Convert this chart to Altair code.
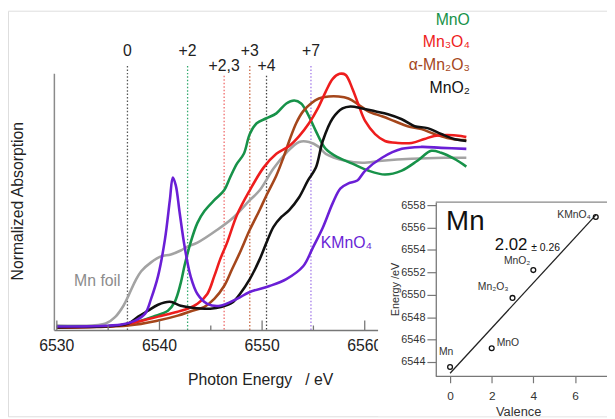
import altair as alt
import pandas as pd

# ---------------- data ----------------
series_names = ["Mn foil", "MnO", "α-Mn₂O₃", "Mn₃O₄", "MnO₂", "KMnO₄"]

foil_e = [6530.00, 6534.76, 6535.72, 6536.49, 6536.97, 6537.64, 6538.22, 6539.18, 6540.14, 6541.11,
          6542.07, 6542.74, 6543.70, 6545.63, 6547.26, 6548.80, 6549.76, 6551.11, 6552.36, 6553.61,
          6554.57, 6555.53, 6556.20, 6558.13, 6559.76, 6561.68, 6564.57, 6567.74, 6569.90]
foil_v = [0.05, 0.07, 0.14, 0.25, 0.35, 0.50, 0.60, 0.69, 0.75, 0.77,
          0.81, 0.85, 0.89, 1.02, 1.15, 1.32, 1.42, 1.64, 1.80, 1.91,
          1.91, 1.86, 1.79, 1.72, 1.70, 1.72, 1.74, 1.75, 1.75]

mno_e = [6530.00, 6536.01, 6537.93, 6539.38, 6540.82, 6541.49, 6542.07, 6542.45, 6543.03, 6543.70,
         6544.38, 6545.34, 6546.30, 6546.88, 6547.55, 6548.22, 6548.80, 6549.47, 6550.43, 6551.39,
         6552.36, 6553.13, 6553.80, 6554.47, 6555.24, 6556.20, 6557.45, 6558.80, 6560.34, 6561.97,
         6563.61, 6565.14, 6566.49, 6567.45, 6568.70, 6569.90]
mno_v = [0.04, 0.05, 0.09, 0.14, 0.20, 0.29, 0.48, 0.66, 0.89, 1.09,
         1.21, 1.32, 1.42, 1.55, 1.69, 1.79, 1.99, 2.10, 2.15, 2.20,
         2.30, 2.33, 2.30, 2.19, 2.02, 1.84, 1.75, 1.69, 1.62, 1.58,
         1.62, 1.72, 1.82, 1.80, 1.74, 1.66]

mn2o3_e = [6530.00, 6536.97, 6539.86, 6541.78, 6543.20, 6544.38, 6545.34, 6546.30, 6547.07, 6547.84,
           6548.80, 6549.76, 6550.43, 6551.39, 6552.07, 6552.64, 6553.32, 6553.99, 6554.76, 6555.53,
           6556.49, 6557.45, 6558.41, 6559.38, 6560.34, 6561.68, 6562.93, 6564.18, 6565.53, 6566.78,
           6568.03, 6569.38, 6569.90]
mn2o3_v = [0.03, 0.05, 0.10, 0.15, 0.20, 0.24, 0.32, 0.45, 0.62, 0.79,
           1.02, 1.22, 1.37, 1.57, 1.75, 1.92, 2.10, 2.22, 2.30, 2.35,
           2.37, 2.37, 2.35, 2.29, 2.22, 2.17, 2.12, 2.07, 2.04, 1.99,
           1.95, 1.93, 1.93]

mn3o4_e = [6530.00, 6536.00, 6537.93, 6539.86, 6541.78, 6542.74, 6543.70, 6544.66, 6545.34, 6545.91,
           6546.59, 6547.55, 6548.80, 6550.14, 6551.39, 6552.64, 6553.61, 6554.57, 6555.43, 6556.20,
           6556.88, 6557.55, 6558.13, 6558.80, 6559.38, 6560.05, 6561.01, 6561.97, 6563.22, 6564.57,
           6565.82, 6566.78, 6568.03, 6569.38, 6569.90]
mn3o4_v = [0.03, 0.05, 0.09, 0.14, 0.19, 0.22, 0.27, 0.37, 0.55, 0.72,
           0.89, 1.17, 1.42, 1.65, 1.79, 1.87, 1.97, 2.10, 2.25, 2.42,
           2.55, 2.60, 2.59, 2.45, 2.29, 2.12, 1.99, 1.92, 1.90, 1.90,
           1.94, 1.97, 1.98, 1.97, 1.96]

mno2_e = [6530.00, 6536.00, 6536.97, 6537.93, 6538.89, 6539.86, 6541.01, 6542.07, 6543.20, 6544.95,
          6546.10, 6547.07, 6547.84, 6548.80, 6549.76, 6550.43, 6551.11, 6551.88, 6552.64, 6553.61,
          6554.47, 6555.24, 6555.91, 6556.88, 6557.84, 6558.61, 6559.76, 6561.01, 6562.26, 6563.61,
          6564.86, 6566.11, 6567.45, 6568.70, 6569.90]
mno2_v = [0.03, 0.05, 0.07, 0.14, 0.20, 0.26, 0.29, 0.25, 0.23, 0.22,
          0.24, 0.28, 0.37, 0.52, 0.72, 0.89, 1.05, 1.15, 1.22, 1.35,
          1.52, 1.65, 1.92, 2.15, 2.25, 2.27, 2.25, 2.22, 2.19, 2.14,
          2.07, 2.05, 1.99, 1.94, 1.92]

kmno4_e = [6530.00, 6536.30, 6537.64, 6538.60, 6539.18, 6539.86, 6540.53, 6541.01, 6541.30, 6541.59,
           6541.97, 6542.45, 6543.03, 6543.70, 6544.66, 6545.91, 6547.55, 6548.80, 6550.72, 6552.36,
           6554.00, 6554.95, 6555.91, 6556.88, 6557.64, 6558.41, 6559.28, 6560.05, 6561.68, 6563.61,
           6565.53, 6567.45, 6569.90]
kmno4_v = [0.04, 0.06, 0.10, 0.17, 0.32, 0.55, 0.92, 1.32, 1.55, 1.47,
           1.19, 0.85, 0.55, 0.37, 0.27, 0.25, 0.32, 0.39, 0.45, 0.52,
           0.65, 0.84, 1.04, 1.29, 1.44, 1.49, 1.52, 1.62, 1.75, 1.84,
           1.86, 1.85, 1.84]

legend_names = ["MnO", "Mn₃O₄", "α-Mn₂O₃", "MnO₂"]

edge_labels = ["0", "+2", "+2,3", "+3", "+4", "+7"]
edge_energy = [6536.88, 6542.74, 6546.30, 6548.80, 6550.43, 6554.76]
edge_tier = [0, 0, 1, 0, 1, 0]

xtick_major = [6530, 6540, 6550, 6560]
xtick_minor = [6535, 6545, 6555]

inset_names = ["Mn", "MnO", "Mn₂O₃", "MnO₂", "KMnO₄"]
inset_valence = [0, 2, 3, 4, 7]
inset_energy = [6543.56, 6545.23, 6549.72, 6552.20, 6556.94]
fit_valence = [0, 7]
fit_energy = [6543.0, 6557.1]
inset_xticks = [0, 2, 4, 6]
inset_yticks = [6544, 6546, 6548, 6550, 6552, 6554, 6556, 6558]
slope_text = "2.02"
slope_err = "± 0.26"

# ---------------- styles / layout ----------------
W, H = 607, 411
FONT = "Liberation Sans"
TXT = "#222222"
COLORS = {
    "Mn foil": "#a3a3a3",
    "MnO": "#179249",
    "α-Mn₂O₃": "#a5461b",
    "Mn₃O₄": "#ee1d1d",
    "MnO₂": "#111111",
    "KMnO₄": "#6a1fd6",
}
EDGE_COLORS = ["#555555", "#33aa6e", "#f06a6a", "#c8643e", "#444444", "#a27ae8"]

XM = alt.Scale(domain=[6529.76, 6570], range=[47, 465.5], nice=False, zero=False)
YM = alt.Scale(domain=[0, 2.6], range=[324, 64], nice=False, zero=False)
XI = alt.Scale(domain=[-0.71, 7.54], range=[433, 607], nice=False, zero=False)
YI = alt.Scale(domain=[6542.77, 6558.26], range=[370, 194], nice=False, zero=False)

# ---------------- tables ----------------
curve_src = {
    "Mn foil": (foil_e, foil_v),
    "MnO": (mno_e, mno_v),
    "α-Mn₂O₃": (mn2o3_e, mn2o3_v),
    "Mn₃O₄": (mn3o4_e, mn3o4_v),
    "MnO₂": (mno2_e, mno2_v),
    "KMnO₄": (kmno4_e, kmno4_v),
}
rows = []
for k, name in enumerate(series_names):
    es, vs = curve_src[name]
    for i, (e, v) in enumerate(zip(es, vs)):
        rows.append({"series": name, "k": k, "E": e, "A": v, "i": i, "color": COLORS[name]})
curves_df = pd.DataFrame(rows)

edges_df = pd.DataFrame({"label": edge_labels, "E": edge_energy, "tier": edge_tier})
edges_df["color"] = EDGE_COLORS
edges_df["top"] = [56 if t == 0 else 66 for t in edge_tier]
edges_df["ly"] = [41 if t == 0 else 56 for t in edge_tier]

legend_df = pd.DataFrame({"name": legend_names})
legend_df["color"] = [COLORS["MnO"], COLORS["Mn₃O₄"], COLORS["α-Mn₂O₃"], COLORS["MnO₂"]]
legend_df["ly"] = [9, 32, 55, 78]

ticks_df = pd.DataFrame({"t": xtick_major + xtick_minor,
                         "top": [314] * len(xtick_major) + [319] * len(xtick_minor)})
labels_df = pd.DataFrame({"t": xtick_major, "lab": [str(t) for t in xtick_major]})

inset_df = pd.DataFrame({"name": inset_names, "v": inset_valence, "E": inset_energy})
fit_df = pd.DataFrame({"v": fit_valence, "E": fit_energy})
one = pd.DataFrame({"d": [0]})

noax = dict(axis=None)

# ---------------- main panel ----------------
lines = alt.Chart(curves_df).mark_line(strokeWidth=2.6, interpolate="catmull-rom").encode(
    x=alt.X("E:Q", scale=XM, **noax),
    y=alt.Y("A:Q", scale=YM, **noax),
    color=alt.Color("color:N", scale=None),
    detail="k:N",
    order="i:Q",
)

edge_rules = alt.Chart(edges_df).mark_rule(strokeWidth=1.3, strokeDash=[1.5, 2]).encode(
    x=alt.X("E:Q", scale=XM, **noax),
    y=alt.Y("top:Q", scale=None),
    y2=alt.value(324),
    color=alt.Color("color:N", scale=None),
)
edge_text = alt.Chart(edges_df).mark_text(font=FONT, fontSize=16, baseline="middle", color=TXT).encode(
    x=alt.X("E:Q", scale=XM, **noax),
    y=alt.Y("ly:Q", scale=None),
    text="label:N",
)

legend_text = alt.Chart(legend_df).mark_text(font=FONT, fontSize=16, align="right", baseline="middle").encode(
    x=alt.value(468),
    y=alt.Y("ly:Q", scale=None),
    text="name:N",
    color=alt.Color("color:N", scale=None),
)

x_domain = alt.Chart(one).mark_rule(color="#777777", strokeWidth=1.5).encode(
    x=alt.value(47), x2=alt.value(376), y=alt.value(324))
y_domain = alt.Chart(one).mark_rule(color="#8a8a8a", strokeWidth=1.5).encode(
    x=alt.value(47), y=alt.value(64), y2=alt.value(324))
x_ticks = alt.Chart(ticks_df).mark_rule(color="#777777", strokeWidth=1.3).encode(
    x=alt.X("t:Q", scale=XM, **noax),
    y=alt.Y("top:Q", scale=None),
    y2=alt.value(324),
)
x_labels = alt.Chart(labels_df).mark_text(font=FONT, fontSize=16, baseline="middle", color=TXT).encode(
    x=alt.X("t:Q", scale=XM, **noax),
    y=alt.value(339.5),
    text="lab:N",
)
x_title = alt.Chart(one).mark_text(font=FONT, fontSize=16, baseline="middle", color=TXT,
                                   text="Photon Energy\u00a0\u00a0\u00a0/ eV").encode(
    x=alt.value(256), y=alt.value(374))
y_title = alt.Chart(one).mark_text(font=FONT, fontSize=16, baseline="middle", color=TXT, angle=270,
                                   text="Normalized Absorption").encode(
    x=alt.value(10), y=alt.value(193))
foil_text = alt.Chart(one).mark_text(font=FONT, fontSize=16, baseline="middle", align="left",
                                     color="#8c8c8c", text="Mn foil").encode(
    x=alt.value(67), y=alt.value(274))
kmno4_text = alt.Chart(one).mark_text(font=FONT, fontSize=16, baseline="middle", align="left",
                                      color=COLORS["KMnO₄"], text="KMnO₄").encode(
    x=alt.value(317), y=alt.value(235))

# ---------------- inset ----------------
cover = alt.Chart(one).mark_rect(color="white").encode(
    x=alt.value(375), x2=alt.value(W), y=alt.value(182), y2=alt.value(H))
frame_top = alt.Chart(one).mark_rule(color="#888888", strokeWidth=1.2).encode(
    x=alt.value(433.5), x2=alt.value(W), y=alt.value(194))

fit_line = alt.Chart(fit_df).mark_line(color="#222222", strokeWidth=1.3).encode(
    x=alt.X("v:Q", scale=XI, **noax),
    y=alt.Y("E:Q", scale=YI, **noax),
)
inset_pts = alt.Chart(inset_df).mark_point(shape="circle", filled=False, size=24, strokeWidth=1.3,
                                           color="#111111", opacity=1).encode(
    x=alt.X("v:Q", scale=XI, axis=alt.Axis(
        orient="bottom", offset=370 - H, values=inset_xticks, format="d", grid=False,
        tickSize=7, tickColor="#777777", domainColor="#777777", domainWidth=1.3, tickWidth=1.2,
        labelFont=FONT, labelFontSize=12, labelColor="#333333", labelPadding=8,
        title="Valence", titleFont=FONT, titleFontSize=13, titleFontWeight="normal",
        titleColor="#333333", titleX=517, titleY=36, titleBaseline="middle", zindex=2)),
    y=alt.Y("E:Q", scale=YI, axis=alt.Axis(
        orient="left", offset=-433.5, values=inset_yticks, format="d", grid=False,
        tickSize=9, tickColor="#777777", domainColor="#777777", domainWidth=1.3, tickWidth=1.2,
        labelFont=FONT, labelFontSize=11, labelColor="#333333", labelPadding=2,
        title="Energy /eV", titleFont=FONT, titleFontSize=11, titleFontWeight="normal",
        titleColor="#333333", titleX=-41, titleY=282, titleBaseline="middle", zindex=2)),
)

label_layout = {
    "Mn": dict(dx=-4, dy=-15, align="center"),
    "MnO": dict(dx=5, dy=-5, align="left"),
    "Mn₂O₃": dict(dx=-4, dy=-11, align="right"),
    "MnO₂": dict(dx=-3, dy=-9, align="right"),
    "KMnO₄": dict(dx=-5, dy=-2, align="right"),
}
inset_labels = []
for nm in inset_names:
    lay = label_layout[nm]
    inset_labels.append(
        alt.Chart(inset_df[inset_df["name"] == nm]).mark_text(
            font=FONT, fontSize=10.5, baseline="middle", color="#333333",
            dx=lay["dx"], dy=lay["dy"], align=lay["align"]).encode(
            x=alt.X("v:Q", scale=XI, **noax),
            y=alt.Y("E:Q", scale=YI, **noax),
            text="name:N",
        )
    )

annot_df = pd.DataFrame({"v": [-0.19, 2.15, 3.9], "E": [6556.5, 6554.39, 6554.2],
                         "t": ["Mn", slope_text, slope_err]})
annot_sizes = [28, 17, 10.5]
annots = []
for j in range(3):
    annots.append(
        alt.Chart(annot_df.iloc[[j]]).mark_text(font=FONT, fontSize=annot_sizes[j], align="left",
                                                baseline="middle", color="#111111").encode(
            x=alt.X("v:Q", scale=XI, **noax),
            y=alt.Y("E:Q", scale=YI, **noax),
            text="t:N",
        )
    )

chart = alt.layer(
    edge_rules, lines, edge_text, legend_text, x_domain, y_domain, x_ticks, x_labels,
    x_title, y_title, foil_text, kmno4_text,
    cover, frame_top, fit_line, inset_pts, *inset_labels, *annots,
).resolve_scale(x="independent", y="independent").properties(
    width=W, height=H, autosize=alt.AutoSizeParams(type="none"), padding=0,
).configure_view(stroke=None).configure(font=FONT)

chart.save("out.html", embed_options={"renderer": "svg", "actions": False})
